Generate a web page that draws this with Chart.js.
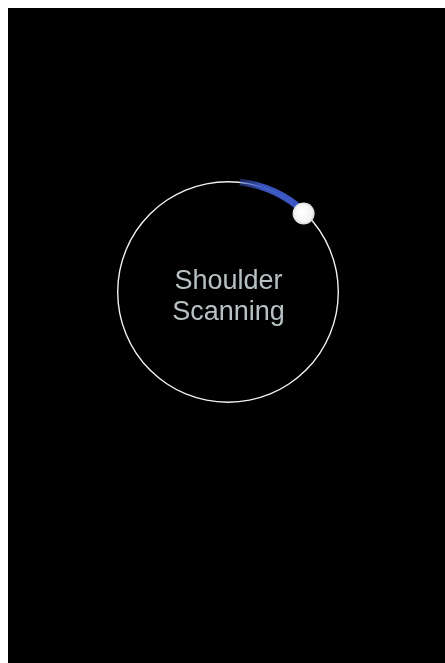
<!DOCTYPE html>
<html>
<head>
<meta charset="utf-8">
<script src="https://cdn.jsdelivr.net/npm/chart.js@4"></script>
<style>
    html, body { margin: 0; padding: 0; background: #fff; }
    .screen {
        position: absolute;
        left: 8px; top: 8px;
        width: 437px; height: 655px;
        background: #000;
        overflow: hidden;
    }
    .ring-box, .arc-box { position: absolute; }
    /* centre of the gauge at (220, 284) inside the screen */
    .ring-box { left: 109px; top: 173px; width: 222px; height: 222px; }
    .arc-box { left: 106px; top: 170px; width: 228px; height: 228px; }
</style>
</head>
<body>
<div class="screen">
    <div class="ring-box"><canvas id="ringChart"></canvas></div>
    <div class="arc-box"><canvas id="arcChart"></canvas></div>
</div>
<script>
// Données de la jauge (pourcentage du tour complet)
const ringLabels = ['track'];
const ringValues = [100];

const arcLabels = ['lead', 'progress', 'remaining'];
const arcValues = [1.7, 10.5, 87.8];

const centerLines = ['Shoulder', 'Scanning'];

const trackColor = '#f2f2f2';
const blue = '60, 88, 198';

// Piste blanche fine
new Chart(document.getElementById('ringChart'), {
    type: 'doughnut',
    data: {
        labels: ringLabels,
        datasets: [{
            data: ringValues,
            backgroundColor: trackColor,
            borderWidth: 0
        }]
    },
    options: {
        responsive: true,
        maintainAspectRatio: false,
        animation: false,
        cutout: 109.6,
        plugins: { legend: { display: false }, tooltip: { enabled: false } }
    }
});

// Dégradé conique pour la traîne bleue
function arcColor(context) {
    const chart = context.chart;
    const area = chart.chartArea;
    if (!area) return 'rgb(' + blue + ')';
    if (context.dataIndex !== 1) return 'rgba(0,0,0,0)';
    const cx = (area.left + area.right) / 2;
    const cy = (area.top + area.bottom) / 2;
    const g = chart.ctx.createConicGradient(-Math.PI / 2, cx, cy);
    g.addColorStop(0, 'rgba(' + blue + ', 0.15)');
    g.addColorStop(0.017, 'rgba(' + blue + ', 0.45)');
    g.addColorStop(0.05, 'rgba(' + blue + ', 0.95)');
    g.addColorStop(0.12, 'rgba(' + blue + ', 1)');
    g.addColorStop(1, 'rgba(' + blue + ', 1)');
    return g;
}

// Bouton blanc au bout de l'arc + texte central
const knobPlugin = {
    id: 'knob',
    afterDraw(chart) {
        const ctx = chart.ctx;
        const arc = chart.getDatasetMeta(0).data[1];
        const cx = arc.x, cy = arc.y;
        const r = 109;
        const a = arc.endAngle;
        const kx = cx + r * Math.cos(a);
        const ky = cy + r * Math.sin(a);

        ctx.save();
        const grad = ctx.createRadialGradient(kx - 2, ky - 2, 1, kx, ky, 11);
        grad.addColorStop(0, '#ffffff');
        grad.addColorStop(0.75, '#f4f4f4');
        grad.addColorStop(1, '#d8d8d8');
        ctx.beginPath();
        ctx.arc(kx, ky, 11, 0, Math.PI * 2);
        ctx.fillStyle = grad;
        ctx.fill();

        ctx.fillStyle = '#b7c1c3';
        ctx.font = '27px "Liberation Sans", Arial, sans-serif';
        ctx.textAlign = 'center';
        ctx.textBaseline = 'alphabetic';
        ctx.fillText(centerLines[0], cx + 0.5, cy - 3);
        ctx.fillText(centerLines[1], cx + 0.5, cy + 28);
        ctx.restore();
    }
};

new Chart(document.getElementById('arcChart'), {
    type: 'doughnut',
    data: {
        labels: arcLabels,
        datasets: [{
            data: arcValues,
            backgroundColor: arcColor,
            borderWidth: 0
        }]
    },
    options: {
        responsive: true,
        maintainAspectRatio: false,
        animation: false,
        cutout: 107,
        plugins: { legend: { display: false }, tooltip: { enabled: false } }
    },
    plugins: [knobPlugin]
});
</script>
</body>
</html>
